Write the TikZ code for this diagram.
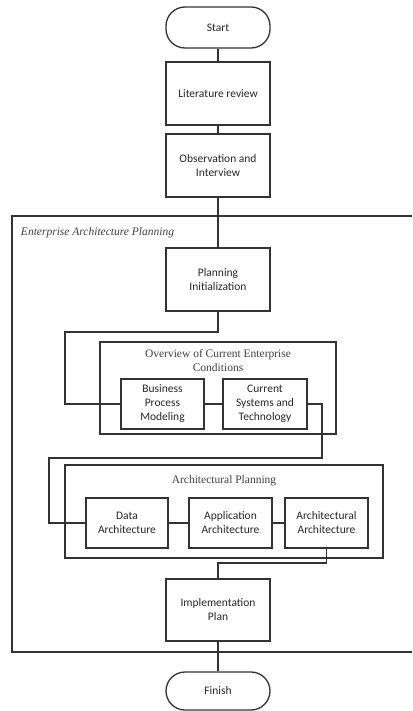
\documentclass[tikz,border=0pt]{standalone}
\usepackage{fontspec}
\setmainfont{Carlito}
\newfontfamily\serifttl{Liberation Serif}
\begin{document}
\begin{tikzpicture}[x=1pt,y=-1pt,
  line width=1.3pt, draw=black!80,
  every node/.style={text=black!85},
  procbox/.style={draw=black!80, line width=1.3pt, rectangle, align=center, inner sep=1pt, font=\fontsize{11.5}{14}\selectfont},
  termbox/.style={procbox, rounded corners=19pt},
  groupbox/.style={draw=black!80, line width=1.3pt, rectangle},
  grouptitle/.style={font=\serifttl\fontsize{11.5}{14}\selectfont, align=center, text=black!75},
  conn/.style={draw=black!80, line width=1.3pt}]
\useasboundingbox (0,0) rectangle (412,711);

% outer EAP frame (open to the right edge)
\draw[conn] (412,216) -| (12,652) -- (412,652);
\node[grouptitle, anchor=west, font=\serifttl\itshape\fontsize{11.5}{14}\selectfont] (eaptitle) at (17,233) {Enterprise Architecture Planning};

% groups
\node[groupbox, minimum width=236pt, minimum height=92pt] (ov) at (218,388) {};
\node[grouptitle] (ovtitle) at (218,361) {Overview of Current Enterprise\\Conditions};
\node[groupbox, minimum width=318pt, minimum height=93pt] (ap) at (224,511.5) {};
\node[grouptitle] (aptitle) at (224,481) {Architectural Planning};

% process nodes
\node[termbox, minimum width=104pt, minimum height=41pt] (start) at (218,27.5) {Start};
\node[procbox, minimum width=104pt, minimum height=63pt] (lit) at (218,93.5) {Literature review};
\node[procbox, minimum width=104pt, minimum height=63pt] (obs) at (218,165.5) {Observation and\\Interview};
\node[procbox, minimum width=104pt, minimum height=63pt] (pi) at (218,279.5) {Planning\\Initialization};
\node[procbox, minimum width=83pt, minimum height=50pt] (bpm) at (162.5,404) {Business\\Process\\Modeling};
\node[procbox, minimum width=84pt, minimum height=50pt] (cst) at (265,404) {Current\\Systems and\\Technology};
\node[procbox, minimum width=82pt, minimum height=50pt] (da) at (127,523) {Data\\Architecture};
\node[procbox, minimum width=83pt, minimum height=50pt] (aa) at (230.5,523) {Application\\Architecture};
\node[procbox, minimum width=83pt, minimum height=50pt] (ar) at (326.5,523) {Architectural\\Architecture};
\node[procbox, minimum width=104pt, minimum height=62pt] (impl) at (218,610) {Implementation\\Plan};
\node[termbox, minimum width=104pt, minimum height=38pt] (finish) at (218,691) {Finish};

% helper coordinates
\coordinate (c1) at (65,332);
\coordinate (c2) at (322,458);
\coordinate (c3) at (49,458);
\coordinate (c4) at (218,563);

% connectors
\draw[conn] (start) -- (lit);
\draw[conn] (lit) -- (obs);
\draw[conn] (obs) -- (pi);
\draw[conn] (pi.south) |- (c1) |- (bpm.west);
\draw[conn] (bpm) -- (cst);
\draw[conn] (cst.east) -| (c2) -- (c3) |- (da.west);
\draw[conn] (da) -- (aa);
\draw[conn] (aa) -- (ar);
\draw[conn] (ar.south) |- (c4) -- (impl.north);
\draw[conn] (impl) -- (finish);
\end{tikzpicture}
\end{document}
